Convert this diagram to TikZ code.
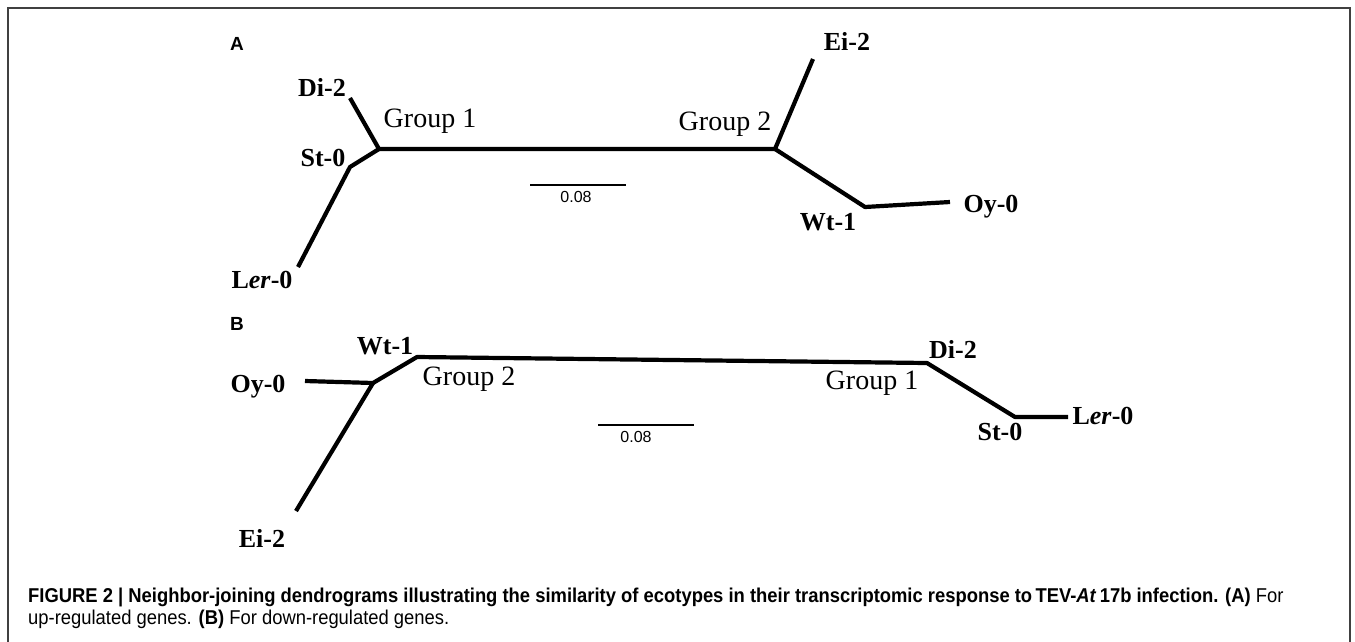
\documentclass[tikz,border=0pt]{standalone}
\usepackage{fontspec}
\setmainfont{Liberation Serif}
\newfontfamily\capfont[FakeStretch=0.92]{Liberation Sans}
\newfontfamily\sansfont{Liberation Sans}
\begin{document}
\begin{tikzpicture}[x=1pt,y=-1pt,
  branch/.style={line width=4.2pt,line cap=butt,line join=round},
  leaf/.style={inner sep=0pt,font=\fontsize{26}{30}\selectfont\bfseries},
  grp/.style={inner sep=0pt,font=\fontsize{28}{32}\selectfont},
  panel/.style={inner sep=0pt,font=\sansfont\fontsize{19}{22}\selectfont\bfseries},
  scalelbl/.style={inner sep=0pt,font=\sansfont\fontsize{16}{18}\selectfont},
  scalebar/.style={line width=1.3pt},
  captext/.style={inner sep=0pt,anchor=base west,font=\capfont\fontsize{20}{24}\selectfont}]
\useasboundingbox (0,0) rectangle (1355,641);
\fill[white] (0,0) rectangle (1355,641);
% frame
\draw[line width=1.5pt,black!75] (8,645) -- (8,8) -- (1350,8) -- (1350,645);

% ---------- Panel A ----------
\node[panel] (A) at (237,44) {A};
\coordinate (a1) at (379,149);
\coordinate (a2) at (775,149);
\coordinate (aDi) at (350,98);
\coordinate (aSt) at (350,167);
\coordinate (aLer) at (298,267);
\coordinate (aEi) at (813,59);
\coordinate (aWt) at (865,207);
\coordinate (aOy) at (950,202);
\draw[branch] (aDi) -- (a1) -- (a2) -- (aEi);
\draw[branch] (a1) -- (aSt) -- (aLer);
\draw[branch] (a2) -- (aWt) -- (aOy);
\node[leaf] (tDiA) at (322,87) {Di-2};
\node[leaf] (tStA) at (323,158) {St-0};
\node[leaf] (tLerA) at (262,280) {L\textit{er}-0};
\node[leaf] (tEiA) at (847,41) {Ei-2};
\node[leaf] (tWtA) at (828,222) {Wt-1};
\node[leaf] (tOyA) at (991,207) {Oy-0};
\node[grp] (g1A) at (430,121) {Group 1};
\node[grp] (g2A) at (725,124) {Group 2};
\coordinate (sA1) at (530,185);
\coordinate (sA2) at (626,185);
\draw[scalebar] (sA1) -- (sA2);
\node[scalelbl] (sAl) at (576,197) {0.08};

% ---------- Panel B ----------
\node[panel] (B) at (237,324) {B};
\coordinate (b2) at (373,383);
\coordinate (bWt) at (417,357);
\coordinate (bOy) at (305,381);
\coordinate (bEi) at (296,511);
\coordinate (b1) at (927,363);
\coordinate (bSt) at (1015,417);
\coordinate (bLer) at (1068,417);
\draw[branch] (bOy) -- (b2) -- (bWt) -- (b1) -- (bSt) -- (bLer);
\draw[branch] (b2) -- (bEi);
\node[leaf] (tWtB) at (385,346) {Wt-1};
\node[leaf] (tOyB) at (258,387) {Oy-0};
\node[leaf] (tEiB) at (262,538) {Ei-2};
\node[leaf] (tDiB) at (953,349) {Di-2};
\node[leaf] (tStB) at (1000,432) {St-0};
\node[leaf] (tLerB) at (1103,416) {L\textit{er}-0};
\node[grp] (g2B) at (469,379) {Group 2};
\node[grp] (g1B) at (872,383) {Group 1};
\coordinate (sB1) at (598,425);
\coordinate (sB2) at (694,425);
\draw[scalebar] (sB1) -- (sB2);
\node[scalelbl] (sBl) at (636,437) {0.08};

% ---------- Caption ----------
\node[captext] (c1) at (28,602) {\textbf{FIGURE 2 | Neighbor-joining dendrograms illustrating the similarity of ecotypes in their transcriptomic response to\,TEV-\textit{At}\,17b infection. (A)} For};
\node[captext] (c2) at (28,624) {up-regulated genes. \textbf{(B)} For down-regulated genes.};
\end{tikzpicture}
\end{document}
